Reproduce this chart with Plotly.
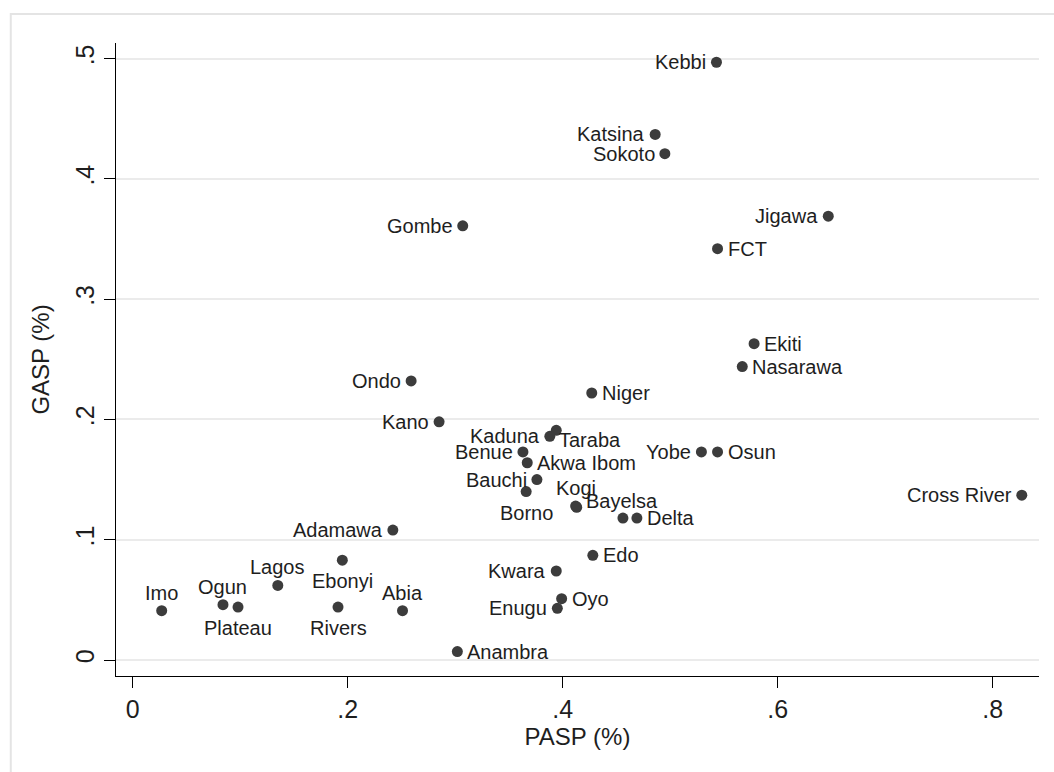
import plotly.graph_objects as go

# State-level shares: PASP (x) against GASP (y)
states = [
    "Kebbi", "Katsina", "Sokoto", "Jigawa", "Gombe", "FCT", "Ekiti", "Nasarawa",
    "Ondo", "Niger", "Kano", "Taraba", "Kaduna", "Benue", "Yobe", "Osun",
    "Akwa Ibom", "Bauchi", "Borno", "Cross River", "Kogi", "Bayelsa", "Delta", "",
    "Adamawa", "Edo", "Ebonyi", "Kwara", "Lagos", "Oyo", "Ogun", "Plateau",
    "Rivers", "Enugu", "Abia", "Imo", "Anambra",
]
pasp = [
    0.543, 0.486, 0.495, 0.647, 0.307, 0.544, 0.578, 0.567,
    0.259, 0.427, 0.285, 0.394, 0.388, 0.363, 0.529, 0.544,
    0.367, 0.376, 0.366, 0.827, 0.412, 0.413, 0.469, 0.456,
    0.242, 0.428, 0.195, 0.394, 0.135, 0.399, 0.084, 0.098,
    0.191, 0.395, 0.251, 0.027, 0.302,
]
gasp = [
    0.497, 0.437, 0.421, 0.369, 0.361, 0.342, 0.263, 0.244,
    0.232, 0.222, 0.198, 0.191, 0.186, 0.173, 0.173, 0.173,
    0.164, 0.150, 0.140, 0.137, 0.128, 0.127, 0.118, 0.118,
    0.108, 0.087, 0.083, 0.074, 0.062, 0.051, 0.046, 0.044,
    0.044, 0.043, 0.041, 0.041, 0.007,
]
# marker-label clock positions (12 = above, 3 = right, 6 = below, 9 = left)
label_clock = [
    9, 9, 9, 9, 9, 3, 3, 3,
    9, 3, 9, 4, 9, 9, 9, 3,
    3, 9, 6, 9, 12, 2, 3, 3,
    9, 3, 6, 9, 12, 3, 12, 6,
    6, 9, 12, 12, 3,
]

x_ticks = [0, 0.2, 0.4, 0.6, 0.8]
x_ticklabels = ["0", ".2", ".4", ".6", ".8"]
y_ticks = [0, 0.1, 0.2, 0.3, 0.4, 0.5]
y_ticklabels = ["0", ".1", ".2", ".3", ".4", ".5"]

FONT = "Liberation Sans, Arial, sans-serif"
TEXT = "#1e1e1e"
MARK = "#3c3c3c"

clock_style = {
    3: dict(xanchor="left", yanchor="middle", xshift=9, yshift=0),
    9: dict(xanchor="right", yanchor="middle", xshift=-9, yshift=0),
    12: dict(xanchor="center", yanchor="bottom", xshift=0, yshift=6),
    6: dict(xanchor="center", yanchor="top", xshift=0, yshift=-9),
    2: dict(xanchor="left", yanchor="middle", xshift=8, yshift=6),
    4: dict(xanchor="left", yanchor="middle", xshift=2, yshift=-10),
}

fig = go.Figure()
fig.add_trace(go.Scatter(
    x=pasp, y=gasp, mode="markers",
    marker=dict(size=11, color=MARK, line=dict(width=0)),
    hovertext=states, hoverinfo="text",
    showlegend=False,
))

annotations = []
for name, xv, yv, pos in zip(states, pasp, gasp, label_clock):
    if not name:
        continue
    annotations.append(dict(
        x=xv, y=yv, xref="x", yref="y", text=name, showarrow=False,
        font=dict(family=FONT, size=20, color=TEXT), borderpad=0,
        **clock_style[pos],
    ))

fig.update_layout(
    width=1054, height=772,
    margin=dict(l=116, r=15, t=43, b=96, autoexpand=False),
    paper_bgcolor="white", plot_bgcolor="white",
    annotations=annotations,
    shapes=[dict(
        type="rect", xref="paper", yref="paper",
        x0=-0.114, x1=1.2, y0=-0.3, y1=1.046,
        line=dict(color="#e4e4e4", width=2), fillcolor="rgba(0,0,0,0)",
        layer="below",
    )],
    xaxis=dict(
        range=[-0.0155, 0.843], tickvals=x_ticks, ticktext=x_ticklabels,
        showgrid=False, zeroline=False,
        showline=True, linecolor="black", linewidth=1,
        ticks="outside", ticklen=11, tickwidth=1, tickcolor="black",
        tickfont=dict(family=FONT, size=25, color=TEXT),
        title=dict(text="PASP (%)", font=dict(family=FONT, size=24, color=TEXT), standoff=4),
    ),
    yaxis=dict(
        range=[-0.0133, 0.513], tickvals=y_ticks, ticktext=y_ticklabels,
        showgrid=True, gridcolor="#ebebeb", gridwidth=2, zeroline=False,
        showline=True, linecolor="black", linewidth=1,
        ticks="outside", ticklen=11, tickwidth=1, tickcolor="black",
        tickangle=-90,
        tickfont=dict(family=FONT, size=25, color=TEXT),
        title=dict(text="GASP (%)", font=dict(family=FONT, size=24, color=TEXT), standoff=14),
    ),
)

fig.write_html("out.html")
